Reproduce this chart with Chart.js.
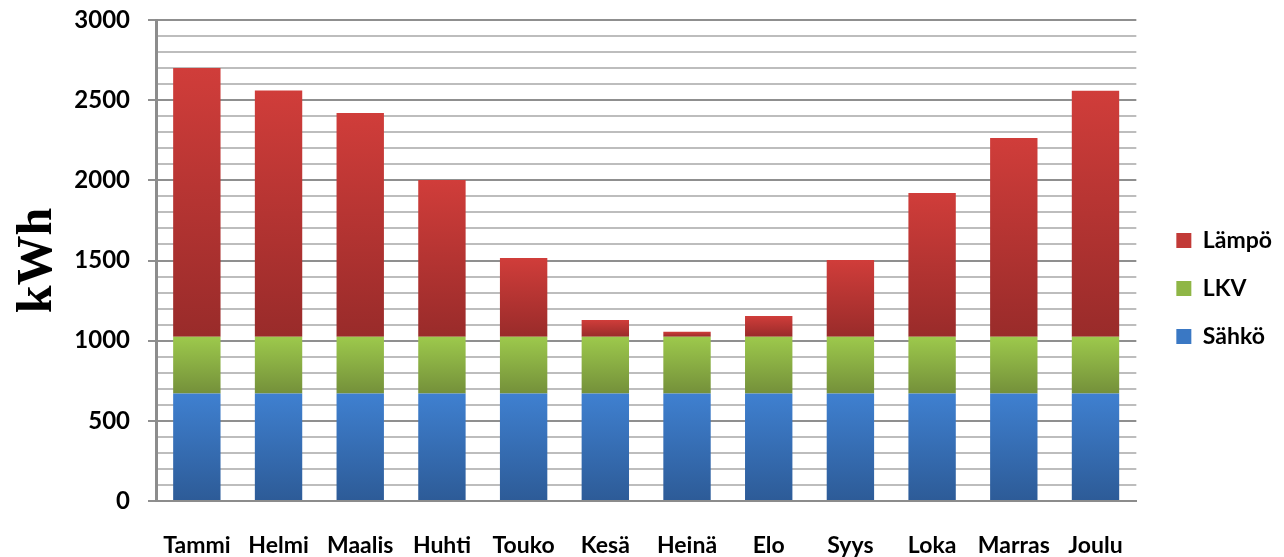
<!DOCTYPE html>
<html>
<head>
<meta charset="utf-8">
<script src="https://cdn.jsdelivr.net/npm/chart.js@4"></script>
<style>
html,body{margin:0;padding:0;background:#fff;}
#wrap{width:1284px;height:557px;}
</style>
</head>
<body>
<div id="wrap"><canvas id="c" width="1284" height="557"></canvas></div>
<script>
const categories = ['Tammi','Helmi','Maalis','Huhti','Touko','Kesä','Heinä','Elo','Syys','Loka','Marras','Joulu'];
const sahko = [670,670,670,670,670,670,670,670,670,670,670,670];
const lkv = [355,355,355,355,355,355,355,355,355,355,355,355];
const lampo = [1675,1535,1395,977,491,104,31,129,478,896,1239,1533];
const seriesNames = ['Sähkö','LKV','Lämpö'];
const yTicks = [0,500,1000,1500,2000,2500,3000];

const colors = [
  {top:'#3f80d0', bottom:'#2d5b97', legend:'#3a78c4'},
  {top:'#9dc94c', bottom:'#74903a', legend:'#8fb646'},
  {top:'#d03d3a', bottom:'#992b2a', legend:'#c23a37'}
];

function gradFill(idx){
  return function(ctx){
    const chart = ctx.chart;
    const c = colors[idx];
    if (!chart.chartArea || ctx.type !== 'data') return c.legend;
    const y = chart.scales.y;
    const i = ctx.dataIndex;
    let base = 0;
    for (let d = 0; d < idx; d++) base += chart.data.datasets[d].data[i];
    const v = chart.data.datasets[idx].data[i];
    const y0 = y.getPixelForValue(base + v);
    const y1 = y.getPixelForValue(base);
    if (!isFinite(y0) || !isFinite(y1) || y0 === y1) return c.legend;
    const g = chart.ctx.createLinearGradient(0, y0, 0, y1);
    g.addColorStop(0, c.top);
    g.addColorStop(1, c.bottom);
    return g;
  };
}

const data = {
  labels: categories,
  datasets: [sahko, lkv, lampo].map((arr, k) => ({
    label: seriesNames[k],
    data: arr,
    backgroundColor: gradFill(k),
    borderWidth: 0,
    categoryPercentage: 1,
    barPercentage: 0.58
  }))
};

// shift the legend a little to the right of its fitted box
const LEGEND_DX = 15;
const legendShift = {
  id: 'legendShift',
  afterLayout(chart){
    const L = chart.legend;
    if (!L) return;
    L.left += LEGEND_DX; L.right += LEGEND_DX;
    if (L.legendHitBoxes) L.legendHitBoxes.forEach(h => { h.left += LEGEND_DX; });
  }
};

const FONT = 'Lato';
new Chart(document.getElementById('c'), {
  type: 'bar',
  data,
  plugins: [legendShift],
  options: {
    responsive: false,
    animation: false,
    devicePixelRatio: 1,
    layout: {padding: {top: 20, right: 17, bottom: 0, left: 8}},
    plugins: {
      tooltip: {enabled: false},
      legend: {
        position: 'right',
        reverse: true,
        labels: {
          boxWidth: 15,
          boxHeight: 15,
          padding: 25,
          color: '#000',
          font: {family: FONT, size: 23, weight: 'bold'},
          generateLabels(chart){
            const items = Chart.defaults.plugins.legend.labels.generateLabels(chart);
            items.forEach(it => { it.fillStyle = colors[it.datasetIndex].legend; it.strokeStyle = colors[it.datasetIndex].legend; it.lineWidth = 0; });
            return items;
          }
        }
      }
    },
    scales: {
      x: {
        stacked: true,
        afterFit(scale){ scale.height = 56; },
        grid: {display: false},
        border: {display: true, color: '#8c8c8c', width: 2},
        ticks: {color: '#000', padding: 23, font: {family: FONT, size: 23, weight: 'bold'}, maxRotation: 0, autoSkip: false}
      },
      y: {
        stacked: true,
        min: 0,
        max: 3000,
        afterFit(scale){ scale.width = 148; scale.paddingTop = 0; scale.paddingBottom = 0; },
        ticks: {
          stepSize: 100,
          autoSkip: false,
          color: '#000',
          padding: 18,
          font: {family: FONT, size: 24, weight: 'bold'},
          callback: (v) => yTicks.includes(v) ? String(v) : ''
        },
        grid: {
          color: (c) => (c.tick && c.tick.value % 500 === 0) ? '#8f8f8f' : '#bdbdbd',
          tickColor: (c) => (c.tick && c.tick.value % 500 === 0) ? '#8f8f8f' : 'rgba(0,0,0,0)',
          lineWidth: 2,
          tickLength: 8
        },
        border: {display: true, color: '#8c8c8c', width: 3},
        title: {
          display: true,
          text: 'kWh',
          color: '#000',
          font: {family: 'Liberation Serif', size: 50, weight: 'bold'},
          padding: {top: 0, bottom: 0}
        }
      }
    }
  }
});
</script>
</body>
</html>
